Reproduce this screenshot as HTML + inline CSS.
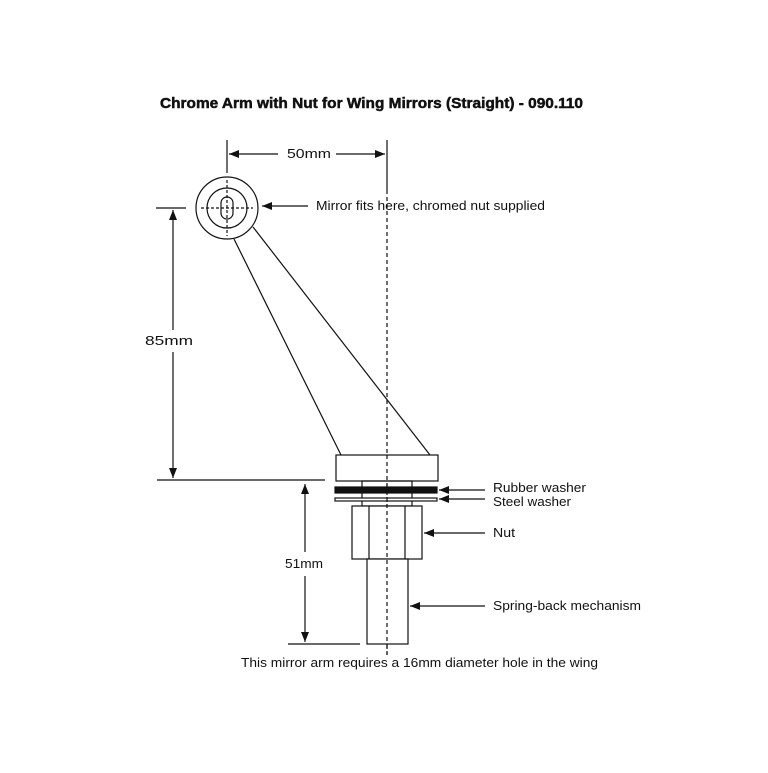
<!DOCTYPE html><html><head><style>body{margin:0;background:#fff}</style></head><body>
<svg width="768" height="768" viewBox="0 0 768 768" xmlns="http://www.w3.org/2000/svg" font-family="Liberation Sans, sans-serif" font-size="13" fill="#111">
<defs><marker id="a" markerWidth="10" markerHeight="8" refX="10" refY="4" orient="auto" markerUnits="userSpaceOnUse"><path d="M0,0 L10,4 L0,8 z" fill="#111"/></marker></defs>
<text x="160" y="108" font-weight="bold" font-size="15" stroke="#111" stroke-width="0.5" textLength="423" lengthAdjust="spacingAndGlyphs">Chrome Arm with Nut for Wing Mirrors (Straight) - 090.110</text>
<g stroke="#111" stroke-width="1.2" fill="none">
<line x1="387" y1="190" x2="387" y2="655" stroke-dasharray="4,3"/>
<line x1="227" y1="140" x2="227" y2="173"/>
<line x1="387" y1="140" x2="387" y2="190"/>
<line x1="278" y1="154" x2="229" y2="154" marker-end="url(#a)"/>
<line x1="336" y1="154" x2="385" y2="154" marker-end="url(#a)"/>
<circle cx="227" cy="208" r="31"/>
<circle cx="227" cy="208" r="20"/>
<rect x="221" y="197" width="12" height="22" rx="6"/>
<line x1="201" y1="208" x2="253" y2="208" stroke-dasharray="3,2"/>
<line x1="227" y1="180" x2="227" y2="236" stroke-dasharray="3,2"/>
<line x1="308" y1="206" x2="262" y2="206" marker-end="url(#a)"/>
<line x1="234" y1="239" x2="341" y2="455"/>
<line x1="253" y1="227" x2="430" y2="455"/>
<line x1="156" y1="208" x2="186" y2="208"/>
<line x1="157" y1="480" x2="325" y2="480"/>
<line x1="173" y1="330" x2="173" y2="210" marker-end="url(#a)"/>
<line x1="173" y1="352" x2="173" y2="478" marker-end="url(#a)"/>
<rect x="336" y="455" width="102" height="26" fill="#fff"/>
<rect x="362" y="481" width="50" height="25"/>
<rect x="335" y="487" width="102" height="6" fill="#111"/>
<rect x="335" y="498" width="102" height="3" fill="#fff"/>
<rect x="352" y="506" width="70" height="53" fill="#fff"/>
<line x1="369" y1="506" x2="369" y2="559"/>
<line x1="405" y1="506" x2="405" y2="559"/>
<rect x="367" y="559" width="41" height="85" fill="#fff"/>
<line x1="387" y1="455" x2="387" y2="655" stroke-dasharray="4,3"/>
<line x1="288" y1="644" x2="360" y2="644"/>
<line x1="305" y1="552" x2="305" y2="484" marker-end="url(#a)"/>
<line x1="305" y1="576" x2="305" y2="642" marker-end="url(#a)"/>
<line x1="485" y1="490" x2="439" y2="490" marker-end="url(#a)"/>
<line x1="485" y1="499" x2="439" y2="499" marker-end="url(#a)"/>
<line x1="485" y1="533" x2="424" y2="533" marker-end="url(#a)"/>
<line x1="485" y1="606" x2="410" y2="606" marker-end="url(#a)"/>
</g>
<text x="287" y="158" textLength="44" lengthAdjust="spacingAndGlyphs">50mm</text>
<text x="316" y="210" textLength="229" lengthAdjust="spacingAndGlyphs">Mirror fits here, chromed nut supplied</text>
<text x="145" y="345" textLength="48" lengthAdjust="spacingAndGlyphs">85mm</text>
<text x="285" y="568" textLength="38" lengthAdjust="spacingAndGlyphs">51mm</text>
<text x="493" y="492" textLength="93" lengthAdjust="spacingAndGlyphs">Rubber washer</text>
<text x="493" y="506" textLength="78" lengthAdjust="spacingAndGlyphs">Steel washer</text>
<text x="493" y="537" textLength="22" lengthAdjust="spacingAndGlyphs">Nut</text>
<text x="493" y="610" textLength="148" lengthAdjust="spacingAndGlyphs">Spring-back mechanism</text>
<text x="241" y="667" textLength="357" lengthAdjust="spacingAndGlyphs">This mirror arm requires a 16mm diameter hole in the wing</text>
</svg></body></html>
